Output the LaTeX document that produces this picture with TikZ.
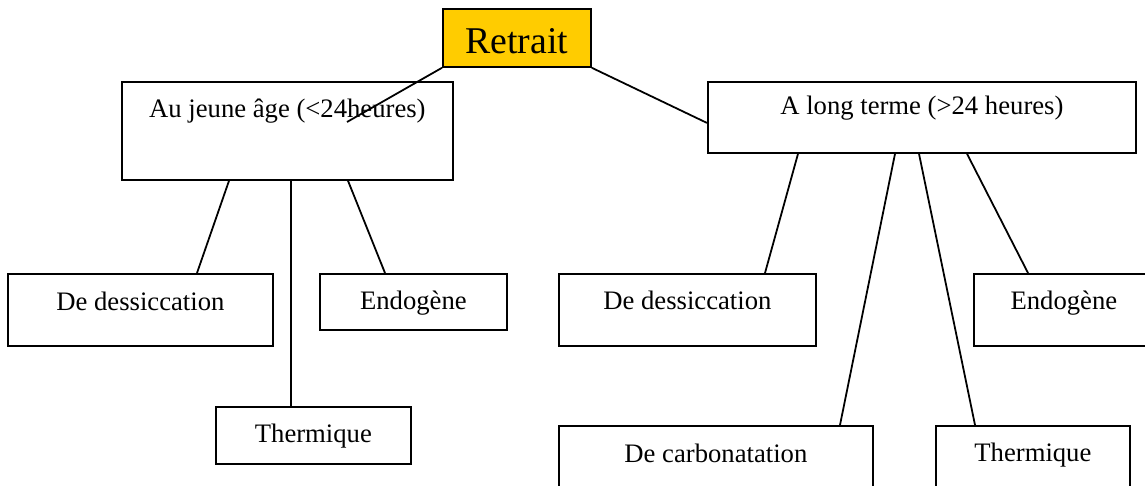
\documentclass[tikz,border=0pt]{standalone}
\usepackage{fontspec}
\setmainfont{Liberation Serif}
\usepackage{xcolor}
\usepackage{tikz}
\usetikzlibrary{positioning,calc}

\definecolor{retraitjaune}{HTML}{FFCC00}

\tikzset{
  boite/.style={draw, line width=0.8pt, inner sep=0pt, anchor=north west,
    font=\fontsize{12}{14}\selectfont},
  taille/.style n args={3}{minimum width=#1*0.45pt, text height=#2*0.45pt,
    text depth=#3*0.45pt},
  lien/.style={line width=0.8pt}
}

\begin{document}
\begin{tikzpicture}[x=0.45pt, y=-0.45pt]
\useasboundingbox (0,0) rectangle (1145,486);
\clip (0,0) rectangle (1145,486);

% Root
\node[boite, fill=retraitjaune, taille={148}{45}{13},
  font=\fontsize{17}{20}\selectfont] (retrait) at (442,8) {Retrait};

% Two families
\node[boite, taille={331}{36}{62}] (jeune) at (121,81) {Au jeune âge (<24heures)};
\node[boite, taille={428}{33}{38}] (long) at (707,81) {A long terme (>24 heures)};

% Left leaves
\node[boite, taille={265}{37}{35}] (dess1) at (7,273) {De dessiccation};
\node[boite, taille={187}{36}{20}] (endo1) at (319,273) {Endogène};
\node[boite, taille={195}{36}{21}] (therm1) at (215,406) {Thermique};

% Right leaves
\node[boite, taille={257}{36}{36}] (dess2) at (558,273) {De dessiccation};
\node[boite, taille={180}{36}{36}] (endo2) at (973,273) {Endogène};
\node[boite, taille={314}{37}{40}] (carb) at (558,425) {De carbonatation};
\node[boite, taille={194}{36}{36}] (therm2) at (935,425) {Thermique};

% Root links
\coordinate (jbout) at (347,122);
\draw[lien] (retrait.south west) -- (jbout);
\draw[lien] (retrait.south east) -- ([yshift=-2.5pt]long.west);

% Links below the families
\foreach \a/\b/\n in {229/197/dess1, 291/291/therm1, 348/385/endo1} {
    \draw[lien] (jeune.south -| \a,0) -- (\n.north -| \b,0);
}
\foreach \a/\b/\n in {798/765/dess2, 895/840/carb, 919/975/therm2, 967/1028/endo2} {
    \draw[lien] (long.south -| \a,0) -- (\n.north -| \b,0);
}
\end{tikzpicture}
\end{document}
